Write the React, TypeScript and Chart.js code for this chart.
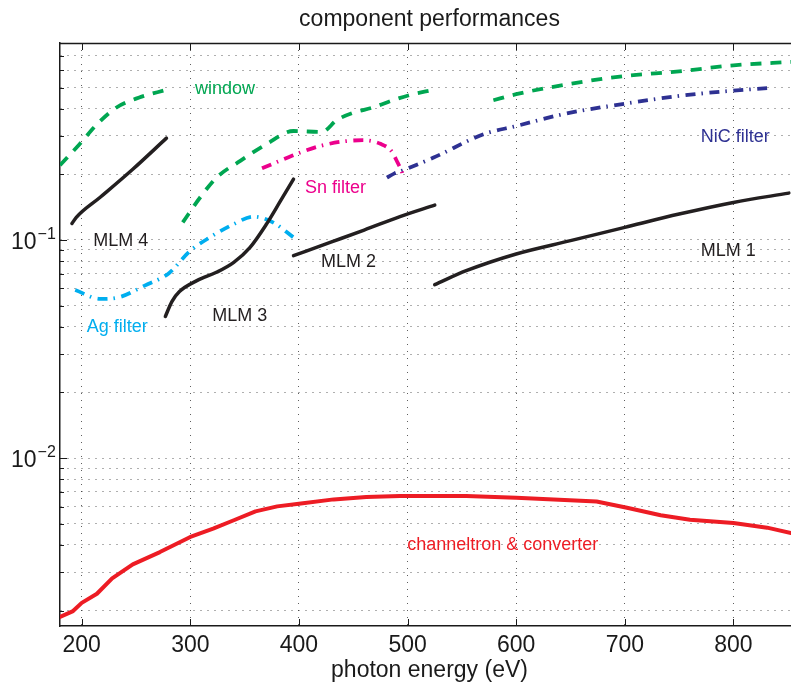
import React, { useEffect, useRef } from 'react';
import { Chart, registerables } from 'chart.js';

Chart.register(...registerables);

// ---- axis ranges & ticks ----
const X_RANGE = [180, 853];
const Y_RANGE = [0.0017, 0.8];
const X_TICKS = [200, 300, 400, 500, 600, 700, 800];
const Y_GRID = [
  0.002, 0.003, 0.004, 0.005, 0.006, 0.007, 0.008, 0.009,
  0.01, 0.02, 0.03, 0.04, 0.05, 0.06, 0.07, 0.08, 0.09,
  0.1, 0.2, 0.3, 0.4, 0.5, 0.6, 0.7,
];
const Y_LABELED = [0.01, 0.1];
const Y_LABEL_EXP = ['−2', '−1'];

// ---- series (photon energy eV, transmission / reflectivity / efficiency) ----
const channeltronX = [180, 192, 200, 214, 228, 247, 272, 300, 321, 340, 360, 380, 400, 432, 462, 493, 554, 600, 674, 702, 733, 760, 800, 831, 853];
const channeltronY = [0.00187, 0.00199, 0.00217, 0.00239, 0.00281, 0.00326, 0.00371, 0.00435, 0.00475, 0.00519, 0.0057, 0.00601, 0.00618, 0.00647, 0.00663, 0.0067, 0.0067, 0.00659, 0.00633, 0.00592, 0.00547, 0.00522, 0.00504, 0.0048, 0.00454];

const mlm4X = [191, 195, 217, 247, 278];
const mlm4Y = [0.119, 0.127, 0.157, 0.211, 0.293];

const mlm3X = [277, 283, 290, 306, 324, 340, 355, 370, 383, 395];
const mlm3Y = [0.0446, 0.0522, 0.058, 0.0651, 0.0711, 0.079, 0.0925, 0.118, 0.151, 0.19];

const mlm2X = [395, 430, 460, 493, 525];
const mlm2Y = [0.0848, 0.098, 0.111, 0.128, 0.1445];

const mlm1X = [525, 554, 600, 650, 700, 750, 800, 851];
const mlm1Y = [0.0624, 0.0723, 0.0863, 0.0993, 0.1143, 0.1315, 0.1487, 0.164];

const windowAX = [180, 198, 214, 232, 253, 278];
const windowAY = [0.22, 0.275, 0.339, 0.405, 0.45, 0.488];
const windowBX = [293, 309, 324, 346, 370, 395, 421, 435, 450, 468, 487, 502, 524];
const windowBY = [0.1204, 0.1566, 0.193, 0.2305, 0.275, 0.316, 0.3126, 0.355, 0.383, 0.405, 0.438, 0.462, 0.488];
const windowCX = [579, 600, 650, 700, 750, 800, 853];
const windowCY = [0.437, 0.466, 0.52, 0.565, 0.593, 0.632, 0.655];

const snX = [366, 392, 416, 438, 459, 475, 485, 491, 494.5, 496];
const snY = [0.213, 0.2415, 0.2667, 0.2818, 0.2868, 0.276, 0.256, 0.2255, 0.207, 0.196];

const nicX = [481, 488, 494.5, 524, 570, 600, 646, 700, 754, 800, 831];
const nicY = [0.193, 0.202, 0.2074, 0.2387, 0.3055, 0.333, 0.38, 0.4217, 0.46, 0.484, 0.497];

const agX = [194, 217, 234, 258, 280, 300, 318, 340, 358, 376, 395];
const agY = [0.059, 0.0537, 0.0546, 0.0618, 0.0703, 0.0893, 0.1028, 0.1183, 0.128, 0.1205, 0.1028];

// ---- text labels (anchor in data coords: left edge, vertical middle) ----
const labelTexts = ['window', 'MLM 4', 'Sn filter', 'NiC filter', 'MLM 2', 'MLM 3', 'Ag filter', 'MLM 1', 'channeltron & converter'];
const labelX = [304.3, 210.7, 405.5, 770, 420.3, 320.2, 204.6, 770, 499.7];
const labelY = [0.491, 0.0993, 0.173, 0.295, 0.079, 0.0447, 0.0398, 0.0887, 0.00398];

const TITLE = 'component performances';
const X_TITLE = 'photon energy (eV)';

// ---- styles ----
const GREEN = '#00a651';
const RED = '#ed1c24';
const BLACK = '#231f20';
const MAGENTA = '#ec008c';
const NAVY = '#2e3192';
const CYAN = '#00aeef';
const labelColors = [GREEN, BLACK, MAGENTA, NAVY, BLACK, BLACK, CYAN, BLACK, RED];
const FONT = '"Liberation Sans", Arial, Helvetica, sans-serif';
const DASH = [11, 9];
const DASHDOT = [10, 6, 1.5, 6.5];

const pts = (xs: number[], ys: number[]) => xs.map((x, i) => ({ x, y: ys[i] }));

const line = (xs: number[], ys: number[], color: string, width: number, dash: number[] = [], smooth = true) => ({
  data: pts(xs, ys),
  borderColor: color,
  borderWidth: width,
  borderDash: dash,
  borderCapStyle: dash.length ? 'butt' : 'round',
  borderJoinStyle: 'round',
  pointRadius: 0,
  fill: false,
  tension: 0,
  cubicInterpolationMode: smooth ? 'monotone' : 'default',
});

const decor = {
  id: 'decor',
  afterDraw(chart: any) {
    const { ctx, chartArea: a, scales } = chart;
    const x = scales.x;
    const y = scales.y;
    ctx.save();
    // top border
    ctx.strokeStyle = '#1a1a1a';
    ctx.lineWidth = 1.5;
    ctx.beginPath();
    ctx.moveTo(a.left, a.top + 0.5);
    ctx.lineTo(a.right, a.top + 0.5);
    ctx.stroke();
    // inward ticks
    ctx.lineWidth = 1;
    ctx.strokeStyle = '#1a1a1a';
    for (const v of X_TICKS) {
      const px = Math.round(x.getPixelForValue(v)) + 0.5;
      ctx.beginPath();
      ctx.moveTo(px, a.bottom);
      ctx.lineTo(px, a.bottom - 7);
      ctx.moveTo(px, a.top);
      ctx.lineTo(px, a.top + 7);
      ctx.stroke();
    }
    for (const v of Y_GRID) {
      const py = Math.round(y.getPixelForValue(v)) + 0.5;
      const len = Y_LABELED.includes(v) ? 7 : 4;
      ctx.beginPath();
      ctx.moveTo(a.left, py);
      ctx.lineTo(a.left + len, py);
      ctx.stroke();
    }
    // y tick labels 10^n
    ctx.fillStyle = '#1a1a1a';
    ctx.textBaseline = 'alphabetic';
    Y_LABELED.forEach((v, i) => {
      const py = y.getPixelForValue(v);
      ctx.font = `23px ${FONT}`;
      ctx.textAlign = 'left';
      const x0 = 11;
      ctx.fillText('10', x0, py + 9);
      const w = ctx.measureText('10').width;
      ctx.font = `16px ${FONT}`;
      ctx.fillText(Y_LABEL_EXP[i], x0 + w + 1, py - 1);
    });
    // annotations
    ctx.font = `18px ${FONT}`;
    ctx.textAlign = 'left';
    ctx.textBaseline = 'middle';
    labelTexts.forEach((t, i) => {
      ctx.fillStyle = labelColors[i];
      ctx.fillText(t, x.getPixelForValue(labelX[i]), y.getPixelForValue(labelY[i]));
    });
    // titles
    ctx.fillStyle = '#1a1a1a';
    ctx.font = `23px ${FONT}`;
    ctx.textAlign = 'center';
    ctx.textBaseline = 'alphabetic';
    const cx = (a.left + a.right) / 2 + 4;
    ctx.fillText(TITLE, cx, 26);
    ctx.fillText(X_TITLE, cx, 677);
    ctx.restore();
  },
};

export default function App() {
  const ref = useRef<HTMLCanvasElement | null>(null);
  useEffect(() => {
    if (!ref.current) return;
    const chart = new Chart(ref.current, {
      type: 'line',
      data: {
        datasets: [
          line(channeltronX, channeltronY, RED, 4, [], false),
          line(mlm4X, mlm4Y, BLACK, 3.5),
          line(mlm3X, mlm3Y, BLACK, 3.5),
          line(mlm2X, mlm2Y, BLACK, 3.5),
          line(mlm1X, mlm1Y, BLACK, 3.5),
          line(windowAX, windowAY, GREEN, 3.8, DASH),
          line(windowBX, windowBY, GREEN, 3.8, DASH),
          line(windowCX, windowCY, GREEN, 3.8, DASH),
          line(snX, snY, MAGENTA, 3.8, DASHDOT),
          line(nicX, nicY, NAVY, 3.8, DASHDOT),
          line(agX, agY, CYAN, 3.8, DASHDOT),
        ] as any,
      },
      options: {
        responsive: false,
        animation: false,
        events: [],
        layout: { padding: { top: 43, left: 0, right: 0, bottom: 0 } },
        plugins: { legend: { display: false }, title: { display: false }, tooltip: { enabled: false } },
        scales: {
          x: {
            type: 'linear',
            min: X_RANGE[0],
            max: X_RANGE[1],
            afterBuildTicks: (s: any) => { s.ticks = X_TICKS.map((v) => ({ value: v })); },
            afterFit: (s: any) => { s.height = 59; },
            ticks: {
              font: { size: 23, family: FONT },
              color: '#1a1a1a',
              padding: 6,
              maxRotation: 0,
              autoSkip: false,
            },
            grid: { color: 'rgba(40,40,40,0.75)', lineWidth: 1, drawTicks: false },
            border: { display: true, color: '#1a1a1a', width: 1.5, dash: [1, 6] },
          },
          y: {
            type: 'logarithmic',
            min: Y_RANGE[0],
            max: Y_RANGE[1],
            afterBuildTicks: (s: any) => { s.ticks = Y_GRID.map((v) => ({ value: v })); },
            afterFit: (s: any) => { s.width = 60; },
            ticks: { display: false },
            grid: { color: 'rgba(40,40,40,0.75)', lineWidth: 1, drawTicks: false },
            border: { display: true, color: '#1a1a1a', width: 1.5, dash: [1, 6] },
          },
        },
      } as any,
      plugins: [decor],
    });
    return () => chart.destroy();
  }, []);
  return (
    <div style={{ position: 'fixed', left: 0, top: 0, width: 791, height: 685, background: '#fff' }}>
      <canvas ref={ref} width={791} height={685} />
    </div>
  );
}
